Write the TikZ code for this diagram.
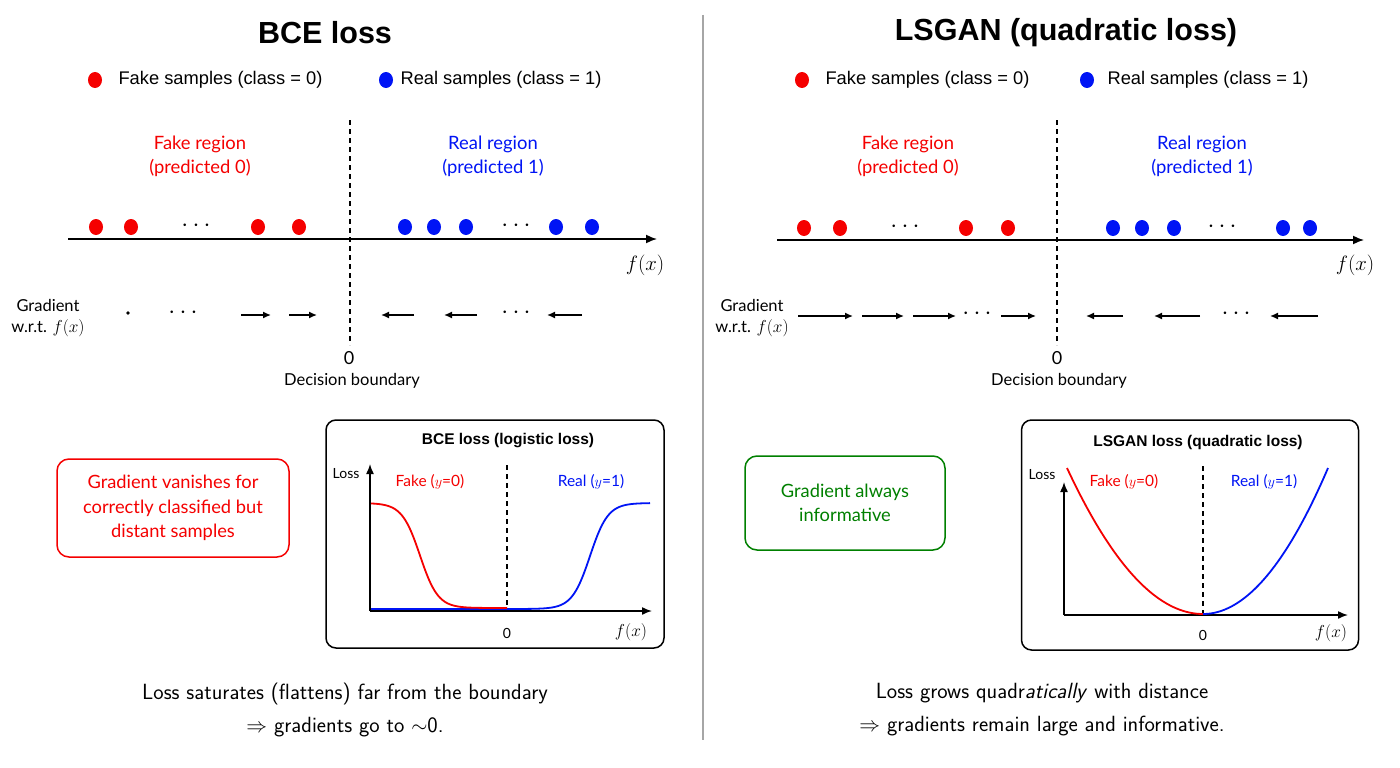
\documentclass[tikz,border=0pt]{standalone}
\usepackage{fontspec}
\setmainfont{Lato}
\newfontfamily\legfont{Liberation Sans}
\newfontfamily\titfont{Liberation Sans}
\usetikzlibrary{arrows.meta,shapes.geometric}
\definecolor{fk}{RGB}{245,0,0}
\definecolor{rl}{RGB}{0,20,245}
\definecolor{gr}{RGB}{0,128,0}
\begin{document}
\begin{tikzpicture}[x=1pt,y=-1pt,
  title/.style={font=\titfont\bfseries\fontsize{30.5}{34}\selectfont},
  leg/.style={font=\legfont\fontsize{18.3}{20}\selectfont},
  reg/.style={font=\fontsize{18.4}{24}\selectfont, align=center},
  small/.style={font=\fontsize{16.5}{21}\selectfont, align=center},
  fakedot/.style={ellipse, fill=fk, minimum width=14, minimum height=16, inner sep=0},
  realdot/.style={ellipse, fill=rl, minimum width=14, minimum height=16, inner sep=0},
  dotsnode/.style={font=\fontsize{27}{28}\selectfont, inner sep=0},
  axis/.style={line width=1.6, -{Latex[length=11,width=9]}},
  grad/.style={line width=1.4, -{Latex[length=8,width=7]}},
  bnd/.style={line width=1.2, dash pattern=on 5 off 4},
  callout/.style={draw, line width=1.5, rounded corners=12, align=center, font=\fontsize{18.3}{24.5}\selectfont},
  plotbox/.style={draw, line width=1.5, rounded corners=10},
  pax/.style={line width=1.5, -{Latex[length=10,width=8]}},
  curve/.style={line width=1.8},
  ptitle/.style={font=\titfont\bfseries\fontsize{15.5}{18}\selectfont},
  plab/.style={font=\fontsize{15.5}{18}\selectfont},
  bottom/.style={font=\sffamily\fontsize{22}{33}\selectfont, align=center}
]
\useasboundingbox (0,0) rectangle (1400,768);
\fill[white] (0,0) rectangle (1400,768);

% divider
\coordinate (dv1) at (703,15); \coordinate (dv2) at (703,740);
\draw[gray!70, line width=1.2] (dv1) -- (dv2);

% ================= LEFT =================
\node[title] (t1) at (325,33) {BCE loss};
\node[fakedot] (lf) at (95,80) {};
\node[leg, anchor=west] (lft) at (115,80) {Fake samples (class = 0)};
\node[realdot] (lr) at (386,80) {};
\node[leg, anchor=west] (lrt) at (397,80) {Real samples (class = 1)};

\node[reg, text=fk] (lfr) at (200,156) {Fake region\\(predicted 0)};
\node[reg, text=rl] (lrr) at (493,156) {Real region\\(predicted 1)};

\coordinate (la1) at (68,239); \coordinate (la2) at (657,239);
\draw[axis] (la1) -- (la2);
\node[font=\fontsize{21}{22}\selectfont] (lfx) at (645,265) {$f(x)$};

\coordinate (lb1) at (350,120); \coordinate (lb2) at (350,345);
\draw[bnd] (lb1) -- (lb2);
\node[font=\fontsize{18}{20}\selectfont] (l0) at (349,358) {0};
\node[small] (ldb) at (352,381) {Decision boundary};

\node[fakedot] (ld1) at (96,227) {};
\node[fakedot] (ld2) at (131,227) {};
\node[dotsnode] (ldd1) at (196,226) {$\cdots$};
\node[fakedot] (ld3) at (258,227) {};
\node[fakedot] (ld4) at (299,227) {};
\node[realdot] (ld5) at (405,227) {};
\node[realdot] (ld6) at (434,227) {};
\node[realdot] (ld7) at (466,227) {};
\node[dotsnode] (ldd2) at (516,226) {$\cdots$};
\node[realdot] (ld8) at (556,227) {};
\node[realdot] (ld9) at (592,227) {};

\node[small, align=center] (lgl) at (48,318) {Gradient\\w.r.t. $f(x)$};
\node[circle, fill, inner sep=0, minimum size=3.6] (lgdot) at (128,313) {};
\node[dotsnode] (lgd1) at (183,313) {$\cdots$};
\coordinate (lg1a) at (241,315); \coordinate (lg1b) at (271,315);
\coordinate (lg2a) at (289,315); \coordinate (lg2b) at (317,315);
\draw[grad] (lg1a) -- (lg1b);
\draw[grad] (lg2a) -- (lg2b);
\coordinate (lg3a) at (414,315); \coordinate (lg3b) at (381,315);
\coordinate (lg4a) at (477,315); \coordinate (lg4b) at (444,315);
\coordinate (lg5a) at (582,315); \coordinate (lg5b) at (547,315);
\draw[grad] (lg3a) -- (lg3b);
\draw[grad] (lg4a) -- (lg4b);
\node[dotsnode] (lgd2) at (516,313) {$\cdots$};
\draw[grad] (lg5a) -- (lg5b);

\node[callout, draw=fk, text=fk, minimum width=232, minimum height=98] (lc) at (173,508) {Gradient vanishes for\\correctly classified but\\distant samples};

\node[plotbox, minimum width=338, minimum height=228] (lbox) at (495,534) {};
\node[ptitle] (lpt) at (508,441) {BCE loss (logistic loss)};
\coordinate (lo) at (370,611);
\coordinate (lyt) at (370,464); \coordinate (lxt) at (652,611);
\draw[pax] (lo) -- (lyt);
\draw[pax] (lo) -- (lxt);
\node[font=\fontsize{14}{16}\selectfont] (lloss) at (346,474) {Loss};
\node[plab, text=fk] (lfk) at (430,482) {Fake ($y$=0)};
\node[plab, text=rl] (lrk) at (591,482) {Real ($y$=1)};
\coordinate (lp1) at (507,465); \coordinate (lp2) at (507,612);
\draw[bnd, line width=1.1] (lp1) -- (lp2);
\node[font=\fontsize{14}{16}\selectfont] (lp0) at (507,633) {0};
\node[font=\fontsize{18}{20}\selectfont] (lpfx) at (631,632) {$f(x)$};
\draw[curve, rl] (371,609) -- (520,609) -- plot[domain=520:650, samples=80] (\x, {609-106/(1+exp(-(\x-590)/9))});
\draw[curve, fk] plot[domain=371:490, samples=80] (\x, {608-105/(1+exp((\x-420)/9))}) -- (507,608);

% ================= RIGHT =================
\node[title] (t2) at (1066,33) {LSGAN (quadratic loss)};
\node[fakedot] (rf) at (802,80) {};
\node[leg, anchor=west] (rft) at (822,80) {Fake samples (class = 0)};
\node[realdot] (rr) at (1087,80) {};
\node[leg, anchor=west] (rrt) at (1104,80) {Real samples (class = 1)};

\node[reg, text=fk] (rfr) at (908,156) {Fake region\\(predicted 0)};
\node[reg, text=rl] (rrr) at (1202,156) {Real region\\(predicted 1)};

\coordinate (ra1) at (777,240); \coordinate (ra2) at (1364,240);
\draw[axis] (ra1) -- (ra2);
\node[font=\fontsize{21}{22}\selectfont] (rfx) at (1355,265) {$f(x)$};

\coordinate (rb1) at (1057,120); \coordinate (rb2) at (1057,345);
\draw[bnd] (rb1) -- (rb2);
\node[font=\fontsize{18}{20}\selectfont] (r0) at (1057,358) {0};
\node[small] (rdb) at (1059,381) {Decision boundary};

\node[fakedot] (rd1) at (804,228) {};
\node[fakedot] (rd2) at (840,228) {};
\node[dotsnode] (rdd1) at (905,227) {$\cdots$};
\node[fakedot] (rd3) at (966,228) {};
\node[fakedot] (rd4) at (1008,228) {};
\node[realdot] (rd5) at (1113,228) {};
\node[realdot] (rd6) at (1142,228) {};
\node[realdot] (rd7) at (1174,228) {};
\node[dotsnode] (rdd2) at (1222,227) {$\cdots$};
\node[realdot] (rd8) at (1283,228) {};
\node[realdot] (rd9) at (1310,228) {};

\node[small, align=center] (rgl) at (752,318) {Gradient\\w.r.t. $f(x)$};
\coordinate (rg1a) at (798,316); \coordinate (rg1b) at (853,316);
\coordinate (rg2a) at (862,316); \coordinate (rg2b) at (904,316);
\coordinate (rg3a) at (913,316); \coordinate (rg3b) at (956,316);
\coordinate (rg4a) at (1001,316); \coordinate (rg4b) at (1036,316);
\draw[grad] (rg1a) -- (rg1b);
\draw[grad] (rg2a) -- (rg2b);
\draw[grad] (rg3a) -- (rg3b);
\node[dotsnode] (rgd1) at (977,314) {$\cdots$};
\draw[grad] (rg4a) -- (rg4b);
\coordinate (rg5a) at (1123,316); \coordinate (rg5b) at (1086,316);
\coordinate (rg6a) at (1200,316); \coordinate (rg6b) at (1154,316);
\coordinate (rg7a) at (1318,316); \coordinate (rg7b) at (1270,316);
\draw[grad] (rg5a) -- (rg5b);
\draw[grad] (rg6a) -- (rg6b);
\node[dotsnode] (rgd2) at (1236,314) {$\cdots$};
\draw[grad] (rg7a) -- (rg7b);

\node[callout, draw=gr, text=gr, minimum width=200, minimum height=94] (rc) at (845,503) {Gradient always\\informative};

\node[plotbox, minimum width=337, minimum height=230] (rbox) at (1190,535) {};
\node[ptitle] (rpt) at (1198,442) {LSGAN loss (quadratic loss)};
\coordinate (ro) at (1064,615);
\coordinate (ryt) at (1064,482); \coordinate (rxt) at (1348,615);
\draw[pax] (ro) -- (ryt);
\draw[pax] (ro) -- (rxt);
\node[font=\fontsize{14}{16}\selectfont] (rloss) at (1042,475) {Loss};
\node[plab, text=fk] (rfk) at (1124,482) {Fake ($y$=0)};
\node[plab, text=rl] (rrk) at (1264,482) {Real ($y$=1)};
\coordinate (rp1) at (1203,466); \coordinate (rp2) at (1203,615);
\draw[bnd, line width=1.1] (rp1) -- (rp2);
\node[font=\fontsize{14}{16}\selectfont] (rp0) at (1203,635) {0};
\node[font=\fontsize{18}{20}\selectfont] (rpfx) at (1331,633) {$f(x)$};
\draw[curve, fk] plot[domain=1067:1203, samples=60] (\x, {614-146*((1203-\x)/136)^2});
\draw[curve, rl] plot[domain=1203:1328, samples=60] (\x, {614-146*((\x-1203)/125)^2});

% bottom texts
\node[bottom] (lbt) at (345,710) {Loss saturates (flattens) far from the boundary\\$\Rightarrow$ gradients go to $\sim$0.};
\node[bottom] (rbt) at (1042,710) {Loss grows quadr\textit{atically} with distance\\$\Rightarrow$ gradients remain large and informative.};
\end{tikzpicture}
\end{document}
